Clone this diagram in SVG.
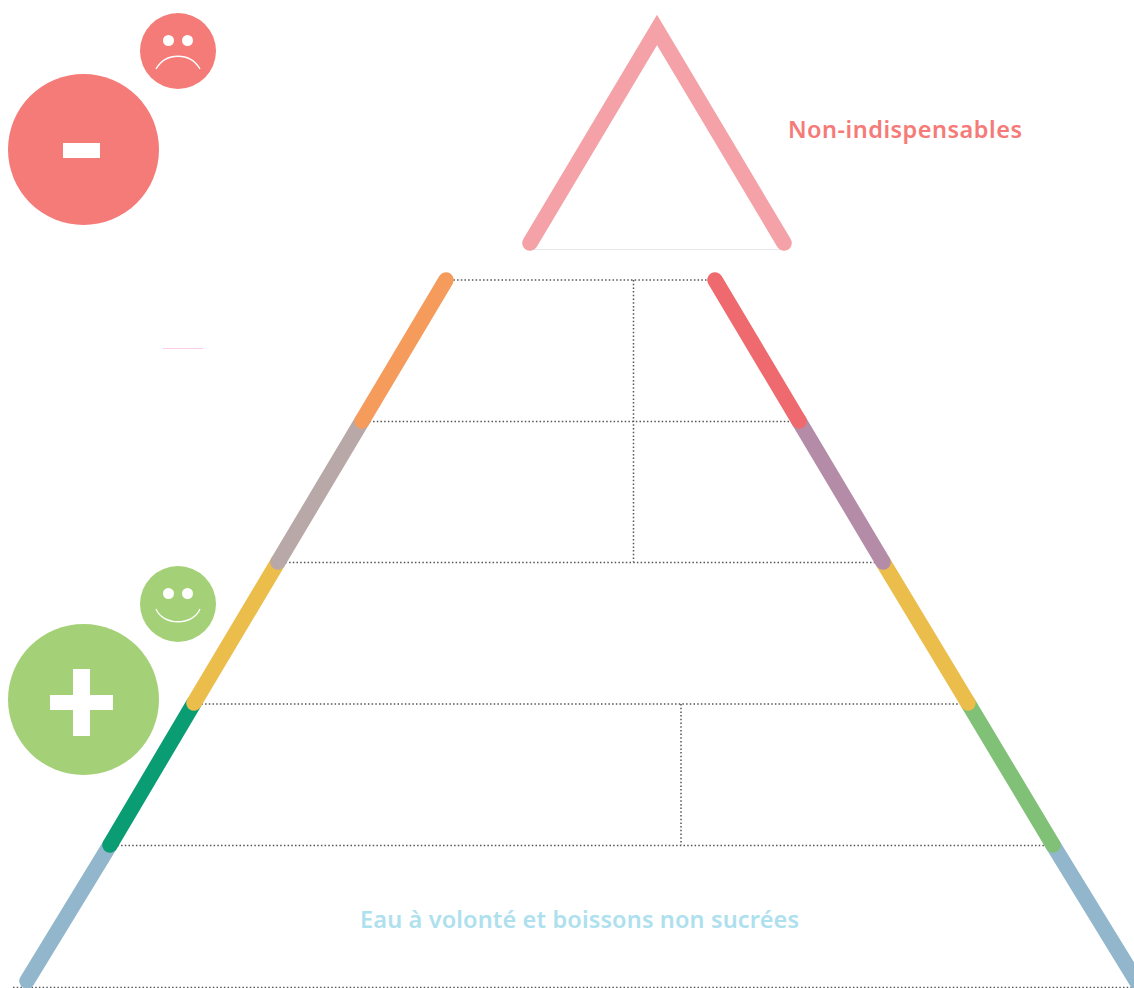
<svg xmlns="http://www.w3.org/2000/svg" width="1134" height="988" viewBox="0 0 1134 988">
<style>
.dot{fill:none;stroke:#555;stroke-width:1.5;stroke-dasharray:1.5 2.2}
.bar{fill:none;stroke-width:15.500;stroke-linecap:round}
.mouth{fill:none;stroke:#fff;stroke-width:1.3}
.eye{fill:#fff}
.mark{fill:#fff}
.label{font-family:"Noto Sans",sans-serif;font-weight:600;font-size:23.500px}
.red{fill:#f57b78}
.green{fill:#a4d177}
</style>
<rect width="1134" height="988" fill="#fff"/>
<g id="connectors">
<path class="dot" d="M446 280H715M633.500 280V562M362 421.500H799M278 562.500H883M194 704H968M681 704V845M110 845.500H1053M13 987.500H1134"/>
<path d="M530 249.500H784" fill="none" stroke="#e8e8ea" stroke-width="1"/>
<path d="M163 348.500H203" fill="none" stroke="#fbcdeb" stroke-width="1"/>
<path class="bar" stroke="#92b7cd" d="M110 845L27 981"/>
<path class="bar" stroke="#92b7cd" d="M1053 845L1140 987"/>
<path class="bar" stroke="#0a9c73" d="M194 703L110 845"/>
<path class="bar" stroke="#80c077" d="M968 703L1053 845"/>
<path class="bar" stroke="#ebbd4a" d="M278 562L194 703"/>
<path class="bar" stroke="#ebbd4a" d="M883 562L968 703"/>
<path class="bar" stroke="#b8a8a8" d="M362 421L278 562"/>
<path class="bar" stroke="#b48ca8" d="M799 421L883 562"/>
<path class="bar" stroke="#f59c5c" d="M446 280L362 421"/>
<path class="bar" stroke="#ef6a6e" d="M715 280L799 421"/>
</g>
<g id="top-triangle">
<path d="M530 243L657 30L784 243" fill="none" stroke="#f4a2a7" stroke-width="15.500" stroke-linecap="round" stroke-linejoin="miter" stroke-miterlimit="10"/>
</g>
<g id="minus-badge">
<circle class="red" cx="83.500" cy="149.500" r="75.500"/>
<rect class="mark" x="63" y="143" width="37" height="15"/>
</g>
<g id="sad-face">
<circle class="red" cx="178" cy="51" r="38"/>
<circle class="eye" cx="168.500" cy="40.500" r="5.500"/>
<circle class="eye" cx="187.500" cy="40.500" r="5.500"/>
<path class="mouth" d="M156 69C166 52 190 52 200 69"/>
</g>
<g id="plus-badge">
<circle class="green" cx="83.500" cy="699.500" r="75.500"/>
<path class="mark" d="M73 669H90V695H113V710H90V736H73V710H50V695H73Z"/>
</g>
<g id="happy-face">
<circle class="green" cx="178" cy="604" r="38"/>
<circle class="eye" cx="168.500" cy="593.500" r="5.500"/>
<circle class="eye" cx="187.500" cy="593.500" r="5.500"/>
<path class="mouth" d="M156 609C163 626 193 626 200 609"/>
</g>
<g id="label-non-indispensables">
<text class="label" x="788" y="137.500" textLength="234" fill="#f57b78">Non-indispensables</text>
</g>
<g id="label-eau">
<text class="label" x="360" y="928" textLength="439" fill="#aee0ee">Eau à volonté et boissons non sucrées</text>
</g>
</svg>
